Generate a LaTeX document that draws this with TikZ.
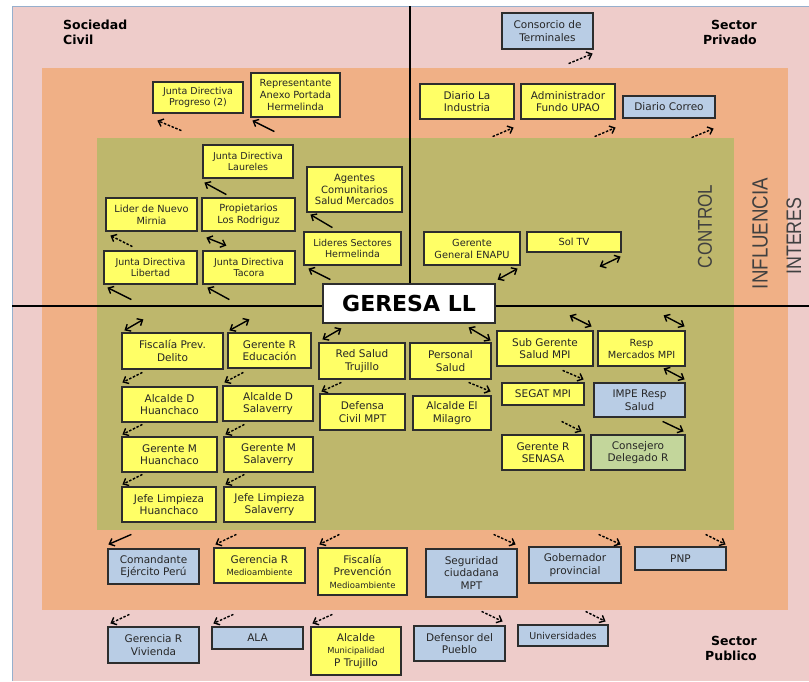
\documentclass[tikz,border=0pt]{standalone}
\usepackage{fontspec}
\setmainfont{DejaVu Sans}
\newfontfamily\narrowsans[FakeStretch=0.85]{Liberation Sans}
\usetikzlibrary{arrows.meta}

\definecolor{bgpink}{RGB}{238,204,202}
\definecolor{bgorange}{RGB}{240,176,134}
\definecolor{bgolive}{RGB}{190,183,108}
\definecolor{boxyellow}{RGB}{255,255,102}
\definecolor{boxblue}{RGB}{185,205,229}
\definecolor{boxgreen}{RGB}{195,214,155}
\definecolor{framecol}{RGB}{150,175,205}
\definecolor{boxline}{RGB}{45,45,45}

\tikzset{
  box/.style={draw=boxline, line width=1.2pt, align=center, inner sep=1pt,
    text=black!85, font=\fontsize{10.5}{12.5}\selectfont},
  yel/.style={box, fill=boxyellow},
  blu/.style={box, fill=boxblue},
  grn/.style={box, fill=boxgreen},
  sz/.style 2 args={minimum width=#1, minimum height=#2},
  smalltxt/.style={font=\fontsize{9.5}{11.5}\selectfont},
  midtxt/.style={font=\fontsize{9.8}{12}\selectfont},
  sector/.style={font=\fontsize{12.5}{15}\selectfont\bfseries, inner sep=0pt},
  zone/.style={rotate=90, text=black!75, inner sep=0pt},
  arr/.style={line width=1.4pt, -{Straight Barb[length=4.5pt,width=8pt]}},
  darr/.style={arr, dash pattern=on 2.5pt off 1.6pt},
  dbl/.style={line width=1.4pt,
    {Straight Barb[length=4.5pt,width=8pt]}-{Straight Barb[length=4.5pt,width=8pt]}},
}

\begin{document}
\begin{tikzpicture}[x=1pt, y=-1pt]
\useasboundingbox (0,0) rectangle (809,681);

\fill[bgpink] (12,6) rectangle (809,681);
\draw[framecol, line width=0.8pt] (12,681) -- (12,6) -- (809,6);
\fill[bgorange] (42,68) rectangle (788,610);
\fill[bgolive] (97,138) rectangle (734,530);

\draw[line width=2.2pt] (12,306) -- (809,306);
\draw[line width=2.2pt] (410,6) -- (410,290);

\node[sector, align=left, anchor=north west] (soc) at (63,20) {Sociedad\\Civil};
\node[sector, align=right, anchor=north east] (priv) at (757,20) {Sector\\Privado};
\node[sector, align=right, anchor=north east] (pub) at (757,636) {Sector\\Publico};

\node[zone, font=\narrowsans\fontsize{20}{24}\selectfont] (ctrl) at (705,226.5) {CONTROL};
\node[zone, font=\narrowsans\fontsize{22}{26}\selectfont] (infl) at (760,233.5) {INFLUENCIA};
\node[zone, font=\narrowsans\fontsize{21}{25}\selectfont] (inte) at (794,236) {INTERES};

% sociedad civil
\node[yel, smalltxt, sz={90}{31}] (prog) at (198,97.5) {Junta Directiva\\Progreso (2)};
\node[yel, midtxt, sz={89}{44}] (rep) at (295.5,95) {Representante\\Anexo Portada\\Hermelinda};
\node[yel, smalltxt, sz={90}{33}] (laur) at (248,161.5) {Junta Directiva\\Laureles};
\node[yel, font=\fontsize{10}{11.5}\selectfont, sz={95}{45}] (agen) at (354.5,189.5) {Agentes\\Comunitarios\\Salud Mercados};
\node[yel, midtxt, sz={91}{33}] (lider) at (151.5,214.5) {Lider de Nuevo\\Mirnia};
\node[yel, midtxt, sz={93}{33}] (prop) at (248.5,214.5) {Propietarios\\Los Rodriguz};
\node[yel, smalltxt, sz={93}{33}] (lib) at (150.5,267.5) {Junta Directiva\\Libertad};
\node[yel, smalltxt, sz={92}{33}] (tac) at (249,267.5) {Junta Directiva\\Tacora};
\node[yel, smalltxt, sz={97}{33}] (lsh) at (352.5,248.5) {Lideres Sectores\\Hermelinda};

% sector privado
\node[blu, sz={91}{36}] (cons) at (547.5,31) {Consorcio de\\Terminales};
\node[yel, sz={94}{35}] (dli) at (467,101.5) {Diario La\\Industria};
\node[yel, sz={94}{35}] (adm) at (568,101.5) {Administrador\\Fundo UPAO};
\node[blu, sz={92}{22}] (dcor) at (669,107) {Diario Correo};
\node[yel, font=\fontsize{9.8}{12}\selectfont, sz={96}{33}] (enapu) at (472,248.5) {Gerente\\General ENAPU};
\node[yel, font=\fontsize{9.8}{12}\selectfont, sz={94}{20}] (sol) at (574,242) {Sol TV};

% sector publico
\node[yel, sz={101}{36}] (fisc) at (172.5,351) {Fiscalía Prev.\\Delito};
\node[yel, sz={83}{35}] (gedu) at (269.5,350.5) {Gerente R\\Educación};
\node[yel, sz={86}{36}] (red) at (362,361) {Red Salud\\Trujillo};
\node[yel, sz={81}{36}] (pers) at (450.5,361) {Personal\\Salud};
\node[yel, sz={96}{35}] (sub) at (545,348.5) {Sub Gerente\\Salud MPI};
\node[yel, font=\fontsize{9.8}{12}\selectfont, sz={87}{35}] (resp) at (641.5,348.5) {Resp\\Mercados MPI};
\node[yel, sz={95}{35}] (adh) at (169.5,404.5) {Alcalde D\\Huanchaco};
\node[yel, sz={90}{35}] (ads) at (268,403.5) {Alcalde D\\Salaverry};
\node[yel, sz={85}{36}] (def) at (362.5,412) {Defensa\\Civil MPT};
\node[yel, sz={78}{34}] (ael) at (452,413) {Alcalde El\\Milagro};
\node[yel, sz={82}{22}] (segat) at (543,394) {SEGAT MPI};
\node[blu, sz={91}{34}] (impe) at (639.5,400) {IMPE Resp\\Salud};
\node[yel, sz={95}{35}] (gmh) at (169.5,454.5) {Gerente M\\Huanchaco};
\node[yel, sz={89}{35}] (gms) at (268.5,454.5) {Gerente M\\Salaverry};
\node[yel, sz={82}{35}] (senasa) at (543,452.5) {Gerente R\\SENASA};
\node[grn, sz={94}{35}] (cdr) at (638,452.5) {Consejero\\Delegado R};
\node[yel, sz={94}{35}] (jlh) at (169,504.5) {Jefe Limpieza\\Huanchaco};
\node[yel, sz={91}{35}] (jls) at (269.5,504.5) {Jefe Limpieza\\Salaverry};

\node[geresa/.style={box, fill=white, draw=boxline, line width=1.4pt, text=black,
  font=\fontsize{22}{26}\selectfont\bfseries}, geresa, sz={172}{39}] (ger) at (409,303.5) {GERESA LL};

\node[blu, sz={91}{35}] (cep) at (153.5,566.5) {Comandante\\Ejército Perú};
\node[yel, sz={91}{35}] (grm) at (259.5,565.5) {Gerencia R\\{\fontsize{8.5}{10}\selectfont Medioambiente}};
\node[yel, sz={89}{47}] (fpm) at (362.5,571.5) {Fiscalía\\Prevención\\{\fontsize{8.5}{10}\selectfont Medioambiente}};
\node[blu, sz={91}{48}] (scm) at (471.5,573) {Seguridad\\ciudadana\\MPT};
\node[blu, sz={92}{36}] (gob) at (575,565) {Gobernador\\provincial};
\node[blu, sz={91}{23}] (pnp) at (680.5,558.5) {PNP};
\node[blu, sz={91}{36}] (grv) at (153.5,645) {Gerencia R\\Vivienda};
\node[blu, sz={91}{22}] (ala) at (257.5,638) {ALA};
\node[yel, sz={90}{48}] (amt) at (356,651) {Alcalde\\{\fontsize{8.3}{10}\selectfont Municipalidad}\\P Trujillo};
\node[blu, sz={91}{35}] (dpu) at (459.5,643.5) {Defensor del\\Pueblo};
\node[blu, font=\fontsize{9.5}{11}\selectfont, sz={90}{21}] (uni) at (563,635.5) {Universidades};

% flechas
\draw[darr] ([shift={(29,17)}]prog.south west) -- ([shift={(5,7)}]prog.south west);
\draw[arr] ([shift={(24,14)}]rep.south west) -- ([shift={(2,3)}]rep.south west);
\draw[arr] ([shift={(24,16)}]laur.south west) -- ([shift={(2,4)}]laur.south west);
\draw[arr] ([shift={(26,15)}]agen.south west) -- ([shift={(4,2)}]agen.south west);
\draw[darr] ([shift={(27,15)}]lider.south west) -- ([shift={(5,4)}]lider.south west);
\draw[dbl] ([shift={(5,6)}]prop.south west) -- ([shift={(25,14)}]prop.south west);
\draw[arr] ([shift={(28,15)}]lib.south west) -- ([shift={(4,3)}]lib.south west);
\draw[arr] ([shift={(27,15)}]tac.south west) -- ([shift={(5,3)}]tac.south west);
\draw[arr] ([shift={(27,14)}]lsh.south west) -- ([shift={(5,3)}]lsh.south west);

\draw[darr] ([shift={(-25,14)}]cons.south east) -- ([shift={(-1,4)}]cons.south east);
\draw[darr] ([shift={(-22,17)}]dli.south east) -- ([shift={(-1,8)}]dli.south east);
\draw[darr] ([shift={(-21,17)}]adm.south east) -- ([shift={(0,8)}]adm.south east);
\draw[darr] ([shift={(-24,19)}]dcor.south east) -- ([shift={(-2,10)}]dcor.south east);
\draw[dbl] ([shift={(-23,14)}]enapu.south east) -- ([shift={(-3,3)}]enapu.south east);
\draw[dbl] ([shift={(-22,14)}]sol.south east) -- ([shift={(-1,4)}]sol.south east);

\draw[dbl] ([shift={(3,-2)}]fisc.north west) -- ([shift={(22,-13)}]fisc.north west);
\draw[dbl] ([shift={(2,-2)}]gedu.north west) -- ([shift={(22,-13)}]gedu.north west);
\draw[dbl] ([shift={(4,-3)}]red.north west) -- ([shift={(23,-14)}]red.north west);
\draw[darr] ([shift={(21,-14)}]adh.north west) -- ([shift={(1,-4)}]adh.north west);
\draw[darr] ([shift={(21,-13)}]ads.north west) -- ([shift={(2,-3)}]ads.north west);
\draw[darr] ([shift={(22,-11)}]def.north west) -- ([shift={(2,-2)}]def.north west);
\draw[darr] ([shift={(21,-12)}]gmh.north west) -- ([shift={(1,-2)}]gmh.north west);
\draw[darr] ([shift={(21,-12)}]gms.north west) -- ([shift={(2,-2)}]gms.north west);
\draw[darr] ([shift={(21,-12)}]jlh.north west) -- ([shift={(1,-2)}]jlh.north west);
\draw[darr] ([shift={(21,-12)}]jls.north west) -- ([shift={(2,-2)}]jls.north west);
\draw[arr] ([shift={(24,-14)}]cep.north west) -- ([shift={(1,-4)}]cep.north west);
\draw[darr] ([shift={(23,-13)}]grm.north west) -- ([shift={(2,-3)}]grm.north west);
\draw[darr] ([shift={(22,-13)}]fpm.north west) -- ([shift={(2,-3)}]fpm.north west);
\draw[darr] ([shift={(22,-12)}]grv.north west) -- ([shift={(3,-3)}]grv.north west);
\draw[darr] ([shift={(22,-12)}]ala.north west) -- ([shift={(2,-3)}]ala.north west);
\draw[darr] ([shift={(22,-12)}]amt.north west) -- ([shift={(2,-3)}]amt.north west);

\draw[dbl] ([shift={(-23,-15)}]pers.north east) -- ([shift={(-1,-2)}]pers.north east);
\draw[dbl] ([shift={(-24,-15)}]sub.north east) -- ([shift={(-2,-4)}]sub.north east);
\draw[dbl] ([shift={(-22,-15)}]resp.north east) -- ([shift={(-1,-4)}]resp.north east);
\draw[darr] ([shift={(-23,-13)}]ael.north east) -- ([shift={(-1,-4)}]ael.north east);
\draw[darr] ([shift={(-22,-12)}]segat.north east) -- ([shift={(-1,-3)}]segat.north east);
\draw[dbl] ([shift={(-22,-14)}]impe.north east) -- ([shift={(-1,-3)}]impe.north east);
\draw[darr] ([shift={(-23,-13)}]senasa.north east) -- ([shift={(-3,-3)}]senasa.north east);
\draw[arr] ([shift={(-23,-13)}]cdr.north east) -- ([shift={(-2,-3)}]cdr.north east);
\draw[darr] ([shift={(-24,-14)}]scm.north east) -- ([shift={(-2,-4)}]scm.north east);
\draw[darr] ([shift={(-23,-12)}]gob.north east) -- ([shift={(-1,-2)}]gob.north east);
\draw[darr] ([shift={(-21,-12)}]pnp.north east) -- ([shift={(-1,-2)}]pnp.north east);
\draw[darr] ([shift={(-24,-14)}]dpu.north east) -- ([shift={(-3,-4)}]dpu.north east);
\draw[darr] ([shift={(-23,-13)}]uni.north east) -- ([shift={(-3,-3)}]uni.north east);
\end{tikzpicture}
\end{document}
